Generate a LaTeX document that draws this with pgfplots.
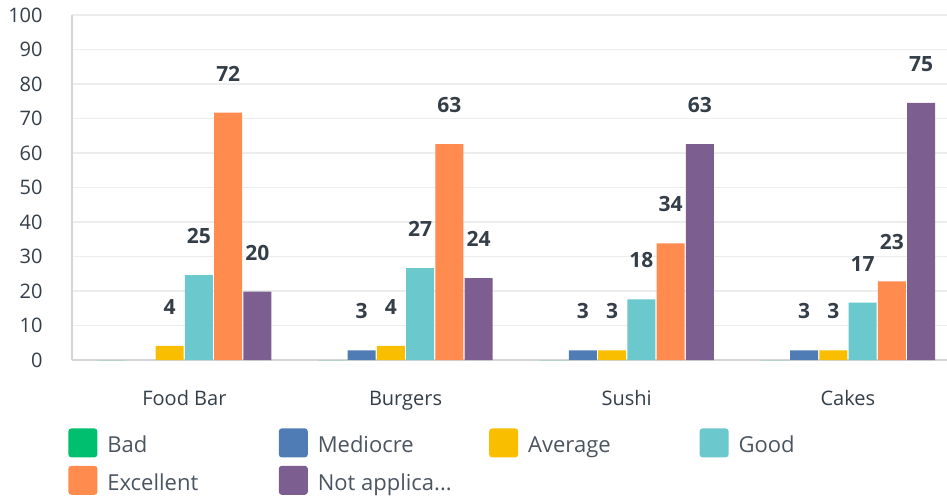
\documentclass[border=0pt]{standalone}
\usepackage{fontspec}
\setmainfont{Open Sans}
\usepackage{pgfplots}
\pgfplotsset{compat=1.18}
\definecolor{cBad}{HTML}{00BF6F}
\definecolor{cMed}{HTML}{507CB6}
\definecolor{cAvg}{HTML}{F9BE00}
\definecolor{cGood}{HTML}{6BC8CD}
\definecolor{cExc}{HTML}{FF8B4F}
\definecolor{cNA}{HTML}{7D5E90}
\definecolor{txt}{HTML}{333E48}
\definecolor{legtxt}{HTML}{4B5560}
\definecolor{gridc}{HTML}{ECEDEE}
\definecolor{axisc}{HTML}{D3D5D6}
\pgfplotsset{
  sqlegend/.style={legend image code/.code={\fill[##1,rounded corners=1.5pt] (0pt,-2.35pt) rectangle (14.5pt,12.15pt);}},
}
\newcommand{\legbox}[1]{\makebox[85.7pt][l]{#1}}
\begin{document}
\begin{tikzpicture}
\useasboundingbox (-36pt,-69pt) rectangle (437.5pt,180pt);
\begin{axis}[
  at={(0pt,0pt)}, anchor=south west,
  scale only axis, width=437.5pt, height=172.5pt,
  ybar=0.625pt, bar width=14pt,
  sqlegend,
  xmin=-0.508, xmax=3.448, ymin=0, ymax=100,
  xtick={0,1,2,3},
  xticklabels={Food Bar, Burgers, Sushi, Cakes},
  ytick={0,10,...,100},
  axis lines=left,
  axis line style={-, draw=axisc, line width=0.9pt},
  ymajorgrids, grid style={draw=gridc, line width=0.9pt},
  major tick length=0pt,
  tick style={draw=none},
  /pgf/number format/assume math mode=true,
  /pgf/number format/fixed, /pgf/number format/precision=0,
  yticklabel style={font=\fontsize{10}{12}\selectfont, text=txt, anchor=east, inner sep=0pt, xshift=-14.5pt},
  xticklabel style={font=\fontsize{10}{12}\selectfont, text=txt, anchor=base, inner sep=0pt, yshift=-22.5pt},
  every node near coord/.append style={font=\fontsize{10.5}{12}\selectfont\bfseries, text=txt, anchor=base, inner sep=0pt, yshift=15.7pt},
  legend columns=4,
  legend style={at={(rel axis cs:0,0)}, anchor=north west, xshift=-2pt, yshift=-34pt,
    draw=none, fill=none, inner sep=0pt, row sep=4.2pt,
    font=\fontsize{11}{13}\selectfont, text=legtxt,
    cells={anchor=base west},
    nodes={inner sep=0pt},
    /tikz/every odd column/.append style={column sep=5pt}},
]
\addplot[fill=cBad, draw=none] coordinates {(0,0) (1,0) (2,0) (3,0)};
\addplot[fill=cMed, draw=none, nodes near coords] coordinates {(1,2.8) (2,2.8) (3,2.8)};
\addplot[fill=cAvg, draw=none, nodes near coords] coordinates {(0,4.1) (1,4.1) (2,2.8) (3,2.8)};
\addplot[fill=cGood, draw=none, nodes near coords] coordinates {(0,24.6) (1,26.6) (2,17.6) (3,16.6)};
\addplot[fill=cExc, draw=none, nodes near coords] coordinates {(0,71.7) (1,62.6) (2,33.8) (3,22.8)};
\addplot[fill=cNA, draw=none, nodes near coords] coordinates {(0,19.8) (1,23.7) (2,62.6) (3,74.5)};
\addlegendentry{\legbox{Bad}}
\addlegendentry{\legbox{Mediocre}}
\addlegendentry{\legbox{Average}}
\addlegendentry{\legbox{Good}}
\addlegendentry{\legbox{Excellent}}
\addlegendentry{\legbox{Not applica...}}
\end{axis}
\end{tikzpicture}
\end{document}
